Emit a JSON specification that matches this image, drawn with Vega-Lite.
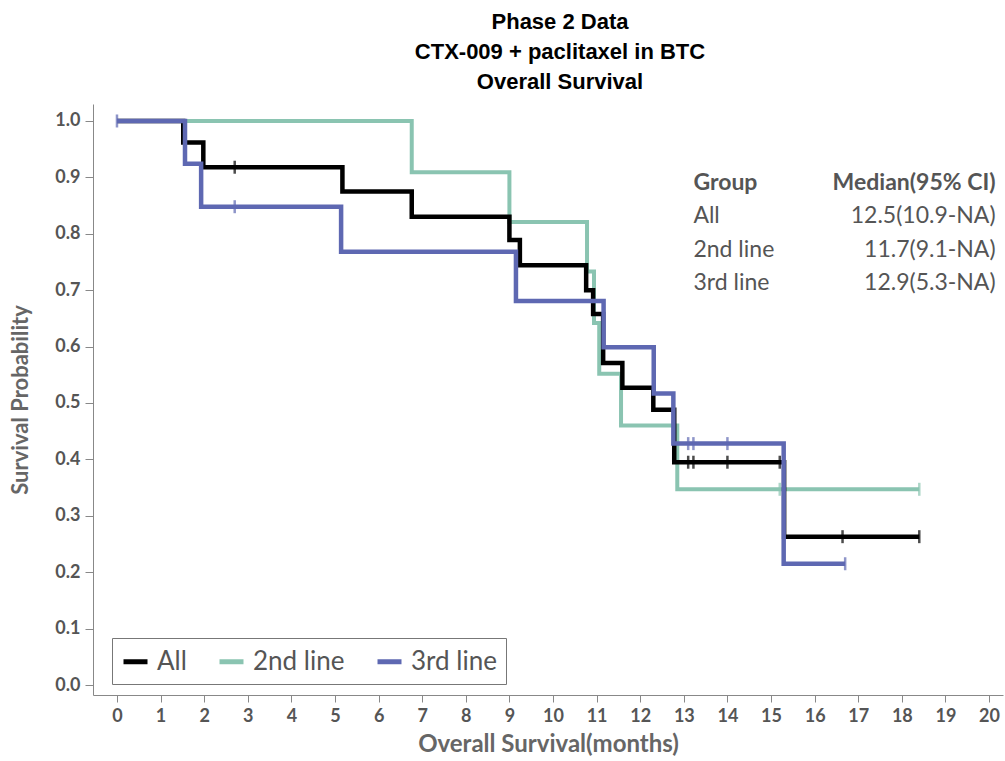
{
  "$schema": "https://vega.github.io/schema/vega-lite/v6.json",
  "width": 910,
  "height": 591,
  "autosize": {"type": "none"},
  "padding": {"left": 93, "top": 104, "right": 2, "bottom": 66},
  "background": "white",
  "title": {
    "text": ["Phase 2 Data", "CTX-009 + paclitaxel in BTC", "Overall Survival"],
    "font": "Liberation Sans",
    "fontSize": 22,
    "fontWeight": "bold",
    "color": "#000000",
    "lineHeight": 30,
    "anchor": "middle",
    "dx": 12,
    "offset": 10
  },
  "config": {
    "view": {"stroke": null},
    "axis": {"grid": false, "labelFont": "Lato", "titleFont": "Lato", "labelColor": "#555555", "titleColor": "#666666", "domainColor": "#888888", "tickColor": "#888888", "labelFontWeight": "bold", "titleFontWeight": "bold"}
  },
  "datasets": {
    "curves": [
      {"group": "2nd line", "t": 0, "s": 1.0},
      {"group": "2nd line", "t": 6.76, "s": 0.909},
      {"group": "2nd line", "t": 9.0, "s": 0.821},
      {"group": "2nd line", "t": 10.78, "s": 0.733},
      {"group": "2nd line", "t": 10.94, "s": 0.642},
      {"group": "2nd line", "t": 11.06, "s": 0.552},
      {"group": "2nd line", "t": 11.56, "s": 0.460},
      {"group": "2nd line", "t": 12.85, "s": 0.347},
      {"group": "2nd line", "t": 18.4, "s": 0.347},
      {"group": "All", "t": 0, "s": 1.0},
      {"group": "All", "t": 1.52, "s": 0.962},
      {"group": "All", "t": 1.98, "s": 0.918},
      {"group": "All", "t": 5.17, "s": 0.875},
      {"group": "All", "t": 6.76, "s": 0.830},
      {"group": "All", "t": 9.0, "s": 0.789},
      {"group": "All", "t": 9.24, "s": 0.744},
      {"group": "All", "t": 10.76, "s": 0.700},
      {"group": "All", "t": 10.92, "s": 0.658},
      {"group": "All", "t": 11.15, "s": 0.571},
      {"group": "All", "t": 11.59, "s": 0.527},
      {"group": "All", "t": 12.3, "s": 0.488},
      {"group": "All", "t": 12.78, "s": 0.395},
      {"group": "All", "t": 15.3, "s": 0.263},
      {"group": "All", "t": 18.4, "s": 0.263},
      {"group": "3rd line", "t": 0, "s": 1.0},
      {"group": "3rd line", "t": 1.56, "s": 0.924},
      {"group": "3rd line", "t": 1.93, "s": 0.848},
      {"group": "3rd line", "t": 5.14, "s": 0.768},
      {"group": "3rd line", "t": 9.15, "s": 0.681},
      {"group": "3rd line", "t": 11.16, "s": 0.599},
      {"group": "3rd line", "t": 12.31, "s": 0.517},
      {"group": "3rd line", "t": 12.76, "s": 0.428},
      {"group": "3rd line", "t": 15.29, "s": 0.215},
      {"group": "3rd line", "t": 16.7, "s": 0.215}
    ],
    "censors": [
      {"group": "2nd line", "t": 15.2, "s": 0.347},
      {"group": "2nd line", "t": 18.4, "s": 0.347},
      {"group": "All", "t": 2.7, "s": 0.918},
      {"group": "All", "t": 13.1, "s": 0.395},
      {"group": "All", "t": 13.22, "s": 0.395},
      {"group": "All", "t": 14.0, "s": 0.395},
      {"group": "All", "t": 15.2, "s": 0.395},
      {"group": "All", "t": 16.64, "s": 0.263},
      {"group": "All", "t": 18.4, "s": 0.263},
      {"group": "3rd line", "t": 0, "s": 1.0},
      {"group": "3rd line", "t": 2.7, "s": 0.848},
      {"group": "3rd line", "t": 13.1, "s": 0.428},
      {"group": "3rd line", "t": 13.22, "s": 0.428},
      {"group": "3rd line", "t": 14.0, "s": 0.428},
      {"group": "3rd line", "t": 16.7, "s": 0.215}
    ],
    "table": [
      {"col": "left", "row": "header", "label": "Group", "tx": 13.22, "ty": 0.89},
      {"col": "right", "row": "header", "label": "Median(95% CI)", "tx": 20.15, "ty": 0.89},
      {"col": "left", "row": "body", "label": "All", "tx": 13.22, "ty": 0.832},
      {"col": "right", "row": "body", "label": "12.5(10.9-NA)", "tx": 20.15, "ty": 0.832},
      {"col": "left", "row": "body", "label": "2nd line", "tx": 13.22, "ty": 0.772},
      {"col": "right", "row": "body", "label": "11.7(9.1-NA)", "tx": 20.15, "ty": 0.772},
      {"col": "left", "row": "body", "label": "3rd line", "tx": 13.22, "ty": 0.712},
      {"col": "right", "row": "body", "label": "12.9(5.3-NA)", "tx": 20.15, "ty": 0.712}
    ]
  },
  "layer": [
    {
      "mark": {"type": "rule", "color": "#aaaaaa", "strokeDash": [6, 4], "strokeWidth": 1.3},
      "encoding": {"y": {"datum": 0.5, "type": "quantitative"}}
    },
    {
      "data": {"name": "curves"},
      "transform": [{"filter": "datum.group === '2nd line'"}],
      "mark": {"type": "line", "interpolate": "step-after", "strokeWidth": 4, "strokeCap": "butt", "strokeJoin": "miter"},
      "encoding": {
        "x": {"field": "t", "type": "quantitative"},
        "y": {"field": "s", "type": "quantitative"},
        "color": {"field": "group", "type": "nominal"}
      }
    },
    {
      "data": {"name": "censors"},
      "transform": [{"filter": "datum.group === '2nd line'"}],
      "mark": {"type": "tick", "orient": "vertical", "size": 13, "thickness": 2.5},
      "encoding": {
        "x": {"field": "t", "type": "quantitative"},
        "y": {"field": "s", "type": "quantitative"},
        "color": {"field": "group", "type": "nominal"}
      }
    },
    {
      "data": {"name": "curves"},
      "transform": [{"filter": "datum.group === 'All'"}],
      "mark": {"type": "line", "interpolate": "step-after", "strokeWidth": 4.5, "strokeCap": "butt", "strokeJoin": "miter"},
      "encoding": {
        "x": {"field": "t", "type": "quantitative"},
        "y": {"field": "s", "type": "quantitative"},
        "color": {"field": "group", "type": "nominal"}
      }
    },
    {
      "data": {"name": "censors"},
      "transform": [{"filter": "datum.group === 'All'"}],
      "mark": {"type": "tick", "orient": "vertical", "size": 13, "thickness": 2.5},
      "encoding": {
        "x": {"field": "t", "type": "quantitative"},
        "y": {"field": "s", "type": "quantitative"},
        "color": {"field": "group", "type": "nominal"}
      }
    },
    {
      "data": {"name": "curves"},
      "transform": [{"filter": "datum.group === '3rd line'"}],
      "mark": {"type": "line", "interpolate": "step-after", "strokeWidth": 4.5, "strokeCap": "butt", "strokeJoin": "miter"},
      "encoding": {
        "x": {"field": "t", "type": "quantitative"},
        "y": {"field": "s", "type": "quantitative"},
        "color": {"field": "group", "type": "nominal"}
      }
    },
    {
      "data": {"name": "censors"},
      "transform": [{"filter": "datum.group === '3rd line'"}],
      "mark": {"type": "tick", "orient": "vertical", "size": 13, "thickness": 2.5},
      "encoding": {
        "x": {"field": "t", "type": "quantitative"},
        "y": {"field": "s", "type": "quantitative"},
        "color": {"field": "group", "type": "nominal"}
      }
    },
    {
      "data": {"name": "table"},
      "transform": [{"filter": "datum.col === 'left' && datum.row === 'header'"}],
      "mark": {"type": "text", "align": "left", "baseline": "middle", "font": "Lato", "fontSize": 23, "fontWeight": "bold", "color": "#555555"},
      "encoding": {
        "x": {"field": "tx", "type": "quantitative"},
        "y": {"field": "ty", "type": "quantitative"},
        "text": {"field": "label"}
      }
    },
    {
      "data": {"name": "table"},
      "transform": [{"filter": "datum.col === 'right' && datum.row === 'header'"}],
      "mark": {"type": "text", "align": "right", "baseline": "middle", "font": "Lato", "fontSize": 23, "fontWeight": "bold", "color": "#555555"},
      "encoding": {
        "x": {"field": "tx", "type": "quantitative"},
        "y": {"field": "ty", "type": "quantitative"},
        "text": {"field": "label"}
      }
    },
    {
      "data": {"name": "table"},
      "transform": [{"filter": "datum.col === 'left' && datum.row === 'body'"}],
      "mark": {"type": "text", "align": "left", "baseline": "middle", "font": "Lato", "fontSize": 23, "color": "#555555"},
      "encoding": {
        "x": {"field": "tx", "type": "quantitative"},
        "y": {"field": "ty", "type": "quantitative"},
        "text": {"field": "label"}
      }
    },
    {
      "data": {"name": "table"},
      "transform": [{"filter": "datum.col === 'right' && datum.row === 'body'"}],
      "mark": {"type": "text", "align": "right", "baseline": "middle", "font": "Lato", "fontSize": 23, "color": "#555555"},
      "encoding": {
        "x": {"field": "tx", "type": "quantitative"},
        "y": {"field": "ty", "type": "quantitative"},
        "text": {"field": "label"}
      }
    }
  ],
  "resolve": {"scale": {"color": "shared"}},
  "encoding": {
    "x": {
      "type": "quantitative",
      "scale": {"domain": [-0.55, 20.32], "nice": false, "zero": false},
      "axis": {"values": [0,1,2,3,4,5,6,7,8,9,10,11,12,13,14,15,16,17,18,19,20], "title": "Overall Survival(months)", "labelFontSize": 18, "titleFontSize": 24, "tickSize": 7, "labelPadding": 5, "titlePadding": 7, "labelFlush": false}
    },
    "y": {
      "type": "quantitative",
      "scale": {"domain": [-0.0177, 1.0301], "nice": false, "zero": false},
      "axis": {"values": [0,0.1,0.2,0.3,0.4,0.5,0.6,0.7,0.8,0.9,1.0], "format": ".1f", "title": "Survival Probability", "labelFontSize": 18, "titleFontSize": 22, "tickSize": 8, "labelPadding": 5, "titlePadding": 22, "labelFlush": false}
    },
    "color": {
      "type": "nominal",
      "scale": {"domain": ["All", "2nd line", "3rd line"], "range": ["#000000", "#8AC4B1", "#5E68B2"]},
      "legend": {
        "title": null,
        "orient": "none",
        "legendX": 19,
        "legendY": 534,
        "direction": "horizontal",
        "padding": 9,
        "strokeColor": "#777777",
        "symbolType": "stroke",
        "symbolStrokeWidth": 5,
        "symbolSize": 576,
        "labelFont": "Lato",
        "labelFontSize": 26,
        "labelColor": "#555555",
        "labelOffset": 7,
        "columnPadding": 22,
        "symbolOpacity": 1
      }
    }
  }
}
